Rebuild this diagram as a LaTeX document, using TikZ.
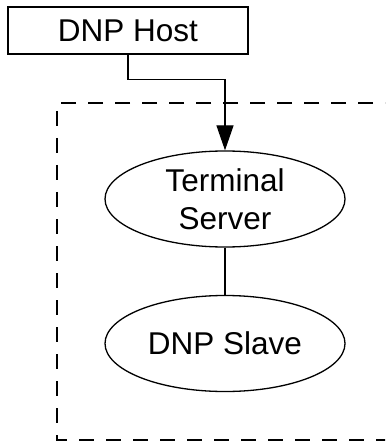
\documentclass[tikz,border=0pt]{standalone}
\usepackage{fontspec}
\setmainfont{Liberation Sans}
\usetikzlibrary{shapes.geometric,arrows.meta}
\begin{document}
\begin{tikzpicture}[x=1pt,y=-1pt,
  line width=1.3pt,
  lbl/.style={font=\fontsize{31.5}{38}\selectfont, align=center, inner sep=0pt},
  hostbox/.style={lbl, draw, rectangle, minimum width=240pt, minimum height=47pt},
  oval/.style={lbl, draw, ellipse, minimum width=240pt, minimum height=96pt},
  frame/.style={dash pattern=on 15pt off 12pt}]
\useasboundingbox (0,0) rectangle (385,443);
\clip (0,0) rectangle (385,443);
\draw[frame] (400,103) -- (57,103) -- (57,440) -- (400,440);
\node[hostbox] (host) at (128,30.5) {DNP Host};
\node[oval] (ts) at (225,199) {Terminal\\Server};
\node[oval] (slave) at (225,343.5) {DNP Slave};
\draw[-{Triangle[length=25pt,width=17pt]}] (host.south) -- ++(0,25) -| (ts.north);
\draw (ts.south) -- (slave.north);
\end{tikzpicture}
\end{document}
